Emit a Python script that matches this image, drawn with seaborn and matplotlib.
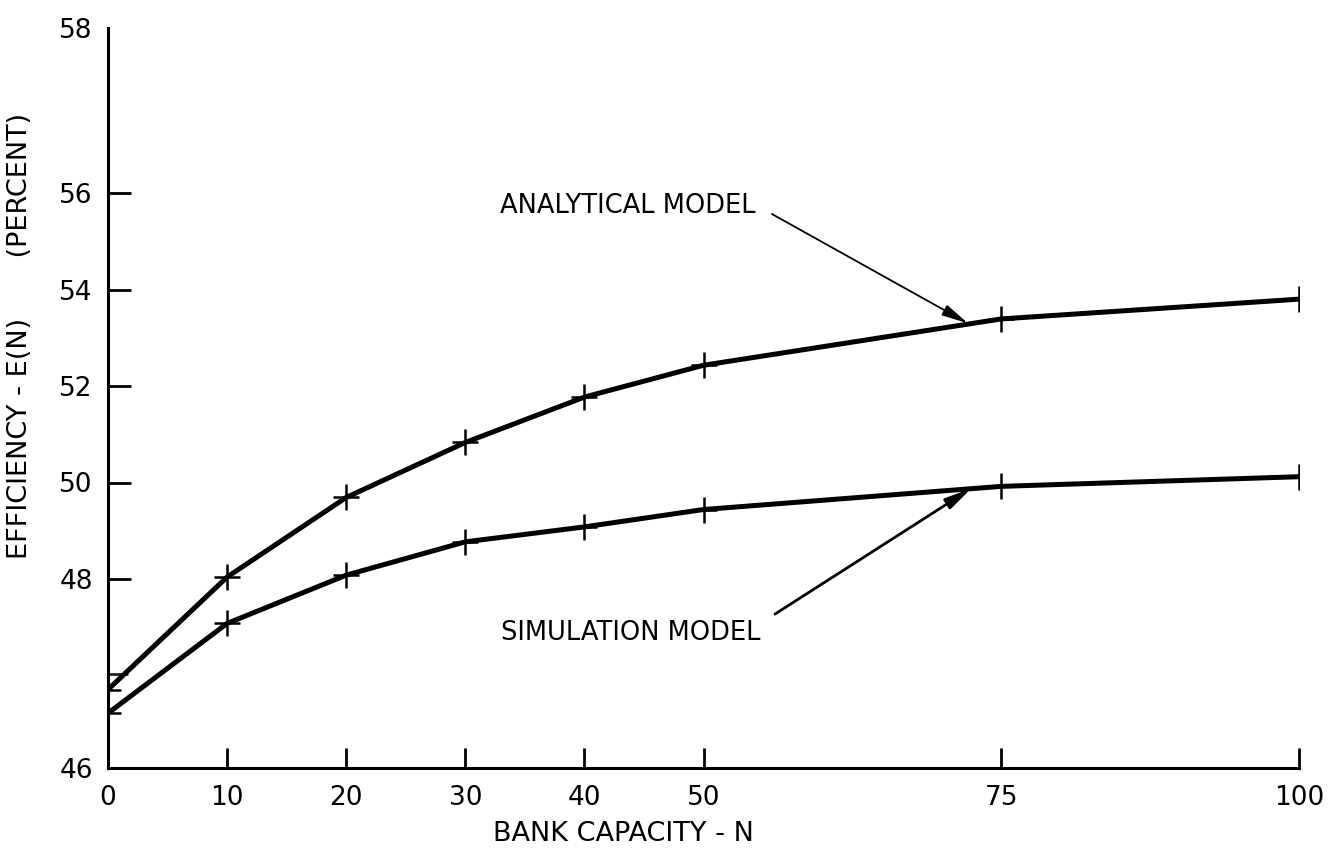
import numpy as np
import pandas as pd
import seaborn as sns
import matplotlib.pyplot as plt

# bank capacity N and efficiency E(N)
capacity = [0, 10, 20, 30, 40, 50, 75, 100]
analytical = [46.83, 48.04, 49.69, 50.83, 51.77, 52.43, 53.39, 53.80]
simulation = [46.58, 47.53, 48.08, 48.77, 49.08, 49.44, 49.92, 50.12]

y_ticks = [46, 48, 50, 52, 54, 56, 58]
x_ticks = [0, 10, 20, 30, 40, 50, 75, 100]

df = pd.DataFrame({'N': capacity * 2,
                   'E': analytical + simulation,
                   'model': ['ANALYTICAL MODEL'] * 8 + ['SIMULATION MODEL'] * 8})

sns.set_style('ticks')
plt.rcParams['font.family'] = ['DejaVu Sans']
plt.rcParams['text.color'] = 'black'
plt.rcParams['axes.labelcolor'] = 'black'

# the hand drawn y axis is not evenly spaced: 46-48 is stretched, 56-58 too
y_vals = [46, 48, 56, 58]
y_pos = [0, 189, 575, 740]


def fwd(v):
    return np.interp(v, y_vals, y_pos, left=-1e3, right=1e3)


def inv(p):
    return np.interp(p, y_pos, y_vals)


fig = plt.figure(figsize=(13.38, 8.49), dpi=100)
ax = fig.add_axes([108 / 1338, 81 / 849, 1191 / 1338, 740 / 849])

for name in ['ANALYTICAL MODEL', 'SIMULATION MODEL']:
    sns.lineplot(data=df[df.model == name], x='N', y='E', ax=ax, color='black',
                 lw=3.6, marker='+', markersize=19, mew=1.8, mec='black',
                 legend=False, estimator=None)

ax.set_yscale('function', functions=(fwd, inv))
ax.set_xlim(0, 100)
ax.set_ylim(46, 58)

ax.set_xticks(x_ticks)
ax.set_xticklabels([str(t) for t in x_ticks])
ax.set_yticks(y_ticks)
ax.set_yticklabels([str(t) for t in y_ticks])
ax.set_yticks([47], minor=True)
ax.tick_params(axis='both', which='major', direction='in', width=2,
               labelsize=19, color='black', labelcolor='black')
ax.tick_params(axis='x', pad=12, length=14.5)
ax.tick_params(axis='y', pad=11, length=16.5)
ax.tick_params(axis='y', which='minor', direction='in', length=14.5, width=2)
ax.yaxis.get_major_ticks()[-1].tick1line.set_visible(False)
ax.yaxis.get_major_ticks()[0].tick1line.set_visible(False)
ax.xaxis.get_major_ticks()[0].tick1line.set_visible(False)

sns.despine(ax=ax)
for s in ['left', 'bottom']:
    ax.spines[s].set_linewidth(2.2)
    ax.spines[s].set_color('black')

ax.set_xlabel('BANK CAPACITY - N', fontsize=19.5)
ax.xaxis.set_label_coords((623 - 108) / 1191, -(821 - 768) / 740)
ax.set_ylabel('EFFICIENCY - E(N)       (PERCENT)', fontsize=19.5)
ax.yaxis.set_label_coords(-(108 - 33) / 1191, (768 - 336) / 740)

arrow = dict(arrowstyle='-|>,head_length=1.6,head_width=0.35', color='black',
             lw=1.3, shrinkA=0, shrinkB=0)
ax.annotate('', xy=(72.2, 53.3), xycoords='data',
            xytext=(0.5575, 0.7486), textcoords='axes fraction', arrowprops=arrow)
ax.annotate('', xy=(72.5, 49.88), xycoords='data',
            xytext=(0.56, 0.208), textcoords='axes fraction',
            arrowprops=dict(arrow, lw=2))
ax.text(0.4366, 0.759, 'ANALYTICAL MODEL', transform=ax.transAxes,
        ha='center', va='center', fontsize=18.5)
ax.text(0.439, 0.1824, 'SIMULATION MODEL', transform=ax.transAxes,
        ha='center', va='center', fontsize=18.5)

fig.savefig('out.png', dpi=100, facecolor='white')
